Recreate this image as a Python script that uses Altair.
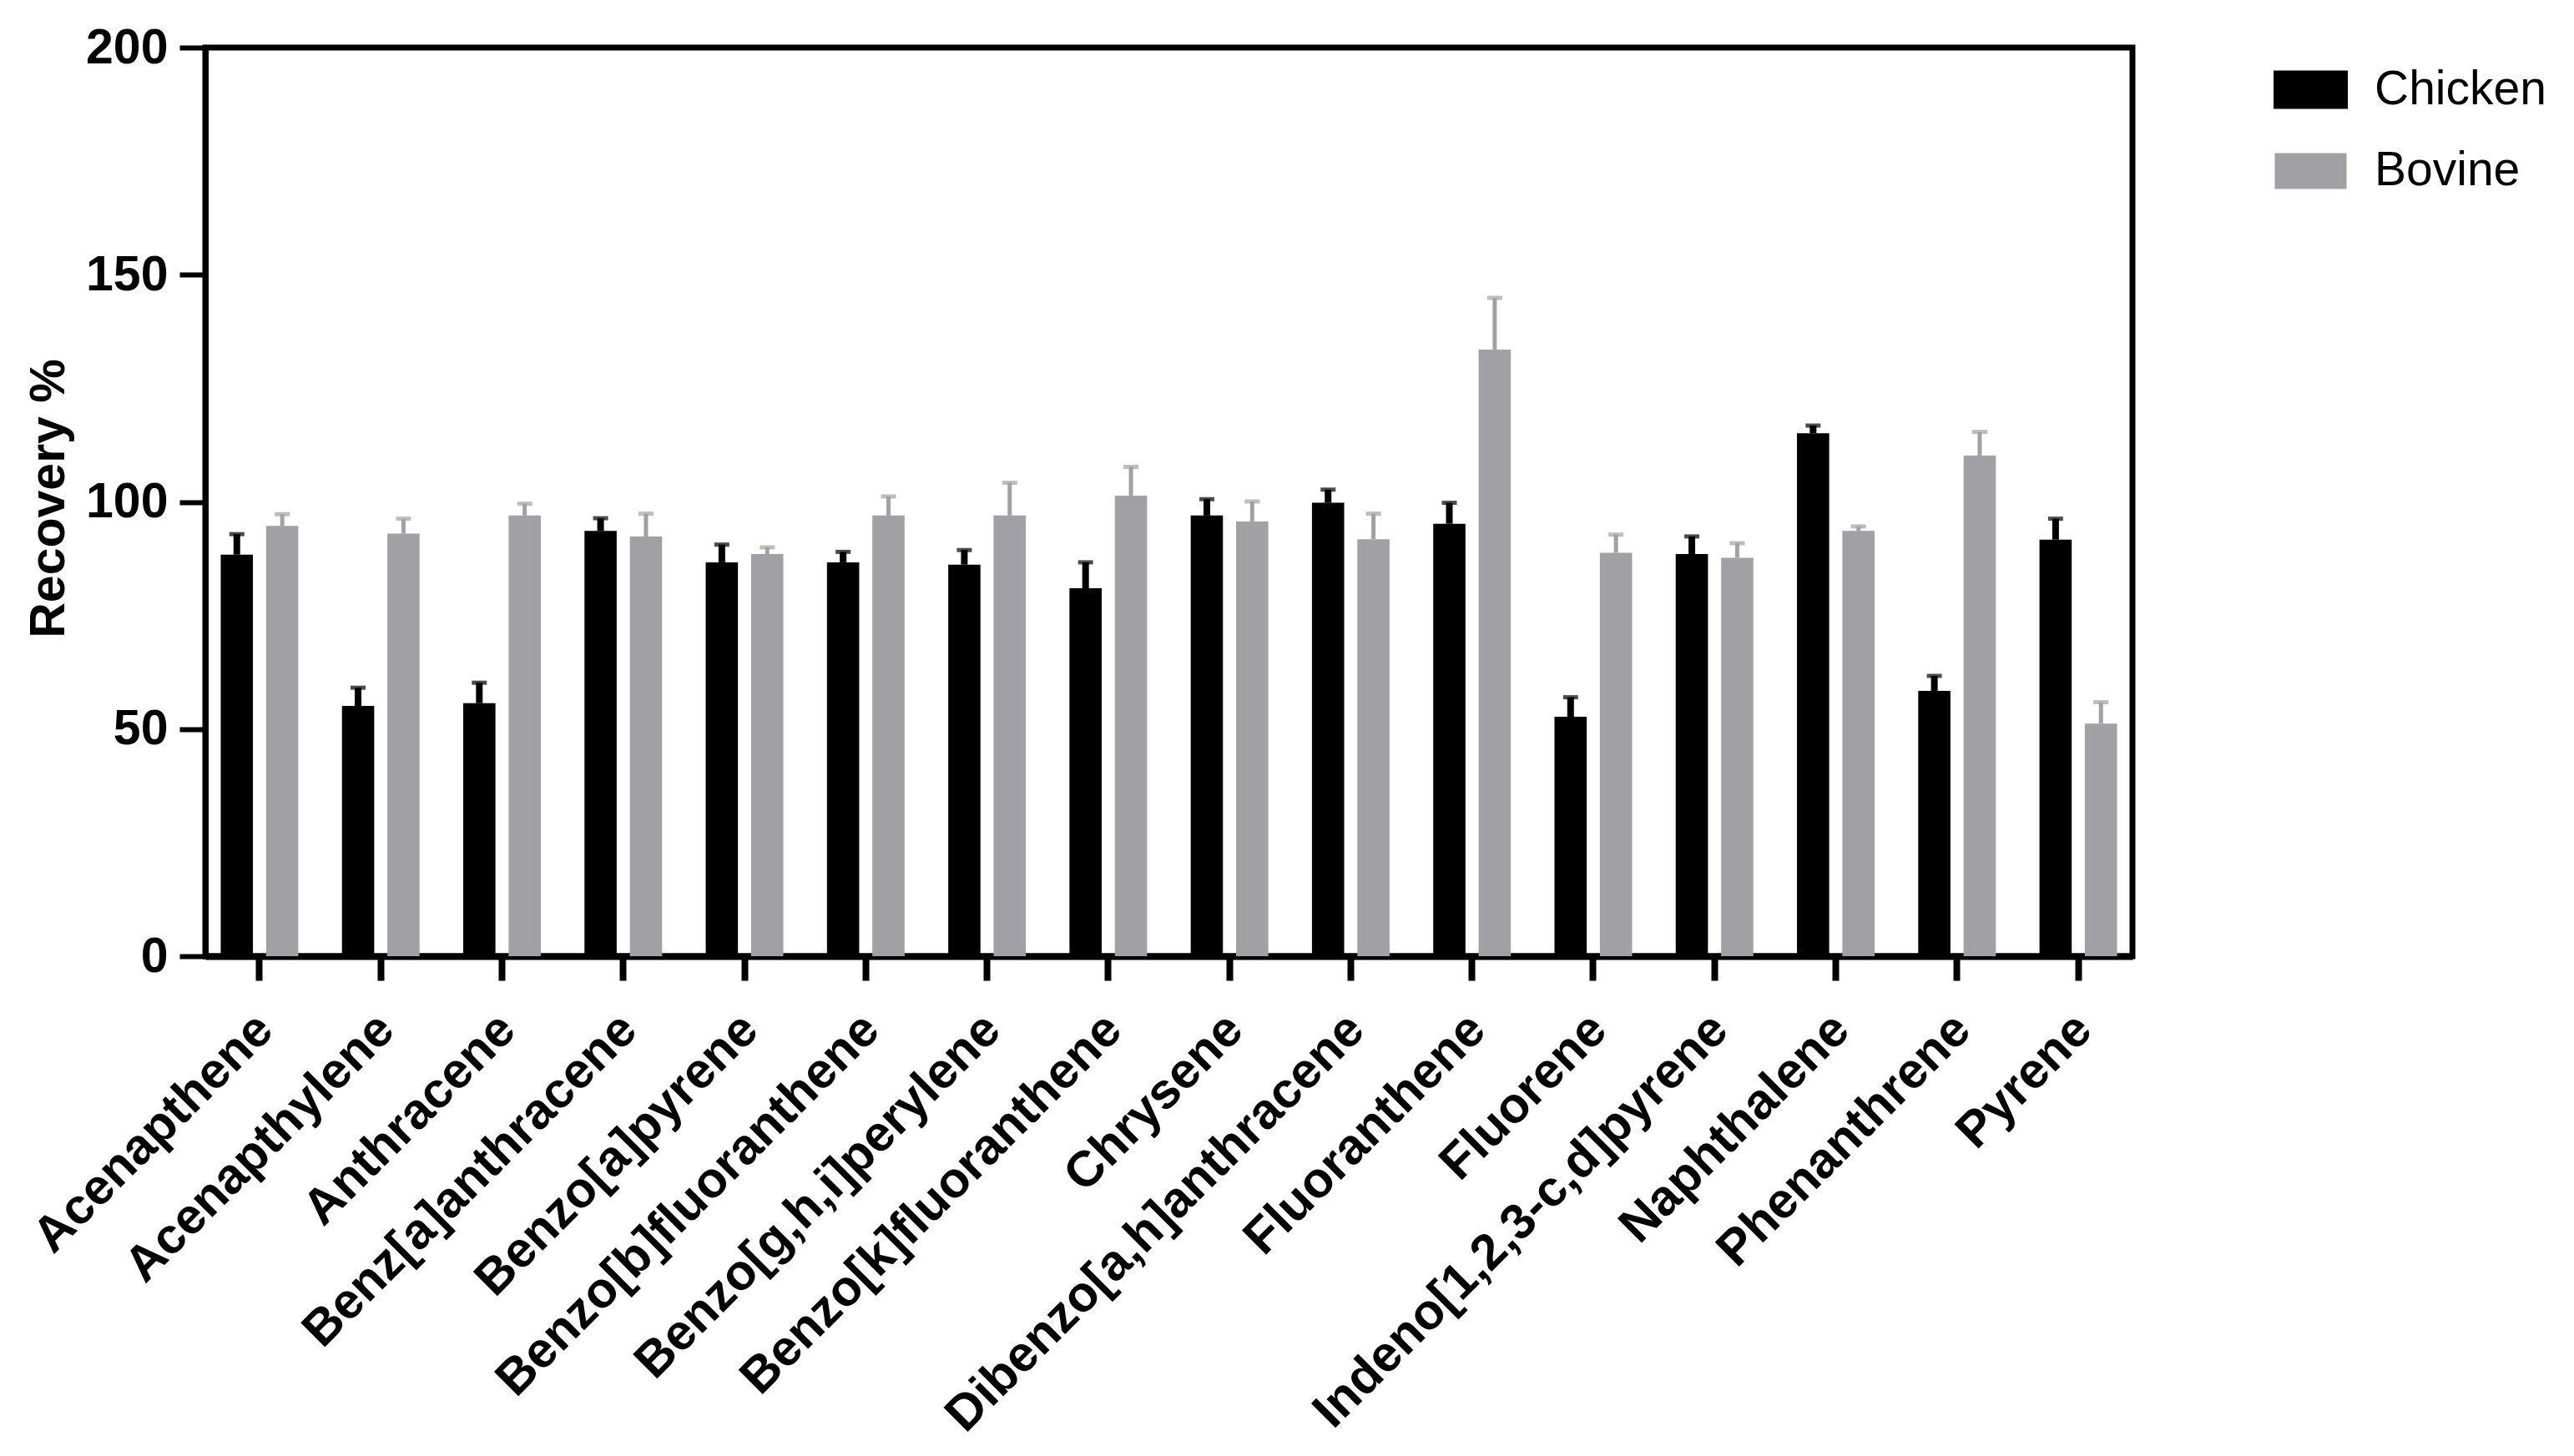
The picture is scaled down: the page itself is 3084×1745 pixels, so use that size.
import altair as alt
import pandas as pd

categories = ["Acenapthene", "Acenapthylene", "Anthracene", "Benz[a]anthracene",
              "Benzo[a]pyrene", "Benzo[b]fluoranthene", "Benzo[g,h,i]perylene",
              "Benzo[k]fluoranthene", "Chrysene", "Dibenzo[a,h]anthracene",
              "Fluoranthene", "Fluorene", "Indeno[1,2,3-c,d]pyrene", "Naphthalene",
              "Phenanthrene", "Pyrene"]
chicken_mean = [88.4, 55.1, 55.7, 93.6, 86.7, 86.7, 86.2, 81.0, 97.0, 99.8, 95.2, 52.7, 88.5, 115.1, 58.4, 91.7]
chicken_sd = [4.5, 4.0, 4.5, 2.8, 3.9, 2.3, 3.2, 5.7, 3.6, 2.9, 4.6, 4.3, 3.9, 1.7, 3.3, 4.6]
bovine_mean = [94.7, 93.0, 97.0, 92.4, 88.5, 97.0, 97.0, 101.4, 95.7, 91.8, 133.5, 88.8, 87.7, 93.6, 110.2, 51.2]
bovine_sd = [2.6, 3.3, 2.6, 5.0, 1.5, 4.2, 7.2, 6.3, 4.4, 5.6, 11.4, 4.0, 3.2, 1.0, 5.2, 4.7]
groups = ["Chicken", "Bovine"]
colors = ["#000000", "#a1a1a5"]

rows = []
for i, c in enumerate(categories):
    rows.append({"compound": c, "group": "Chicken", "mean": chicken_mean[i],
                 "upper": chicken_mean[i] + chicken_sd[i]})
    rows.append({"compound": c, "group": "Bovine", "mean": bovine_mean[i],
                 "upper": bovine_mean[i] + bovine_sd[i]})
df = pd.DataFrame(rows)

FONT = "Liberation Sans"

x_enc = alt.X("compound:N", sort=categories,
              scale=alt.Scale(paddingInner=0.36, paddingOuter=0.127),
              axis=alt.Axis(title=None, labelAngle=-45, labelFont=FONT, labelFontSize=60,
                            labelFontWeight="bold",
                            labelColor="black", labelLimit=2000, labelPadding=29,
                            labelOffset=-14,
                            tickSize=29, tickWidth=8, tickColor="black",
                            domainColor="black", domainWidth=8))
xoff = alt.XOffset("group:N", sort=groups,
                   scale=alt.Scale(domain=groups, paddingInner=0.29, paddingOuter=0))
y_scale = alt.Scale(domain=[0, 200], nice=False)
color_scale = alt.Scale(domain=groups, range=colors)

bars = alt.Chart(df).mark_bar().encode(
    x=x_enc,
    xOffset=xoff,
    y=alt.Y("mean:Q", scale=y_scale,
            axis=alt.Axis(title="Recovery %", values=[0, 50, 100, 150, 200], grid=False,
                          labelFont=FONT, labelFontSize=59, labelFontWeight="bold",
                          labelColor="black", labelPadding=14,
                          tickSize=31, tickWidth=6, tickColor="black",
                          domainColor="black", domainWidth=7,
                          titleFont=FONT, titleFontSize=59, titleFontWeight="bold",
                          titleColor="black", titleX=-188, titleY=540,
                          titleAngle=-90, titleAlign="center", titleBaseline="middle")),
    color=alt.Color("group:N", sort=groups, scale=color_scale,
                    legend=alt.Legend(title=None, orient="none", legendX=2478, legendY=6,
                                      symbolType="M-1,-0.47H1V0.47H-1Z", symbolSize=6561,
                                      symbolStrokeWidth=0, labelFont=FONT, labelFontSize=57,
                                      labelColor="black", labelOffset=32, rowPadding=19,
                                      labelLimit=1000, padding=0)),
)

err = alt.Chart(df).mark_rule().encode(
    x=alt.X("compound:N", sort=categories),
    xOffset=xoff,
    y=alt.Y("mean:Q", scale=y_scale),
    y2="upper:Q",
    color=alt.Color("group:N", sort=groups, scale=color_scale, legend=None),
    strokeWidth=alt.StrokeWidth("group:N", scale=alt.Scale(domain=groups, range=[8, 5]), legend=None),
)

caps = alt.Chart(df).mark_tick(thickness=5, size=18).encode(
    x=alt.X("compound:N", sort=categories),
    xOffset=xoff,
    y=alt.Y("upper:Q", scale=y_scale),
    color=alt.Color("group:N", sort=groups, scale=color_scale, legend=None),
)

chart = alt.layer(bars, err, caps).properties(
    width=2309, height=1089,
    autosize=alt.AutoSizeParams(type="none"),
    padding={"left": 238, "top": 49, "right": 510, "bottom": 588},
).configure(
    background="white",
    view=alt.ViewConfig(stroke="black", strokeWidth=7),
)

chart.save("out.html", embed_options={"renderer": "svg", "actions": False})
